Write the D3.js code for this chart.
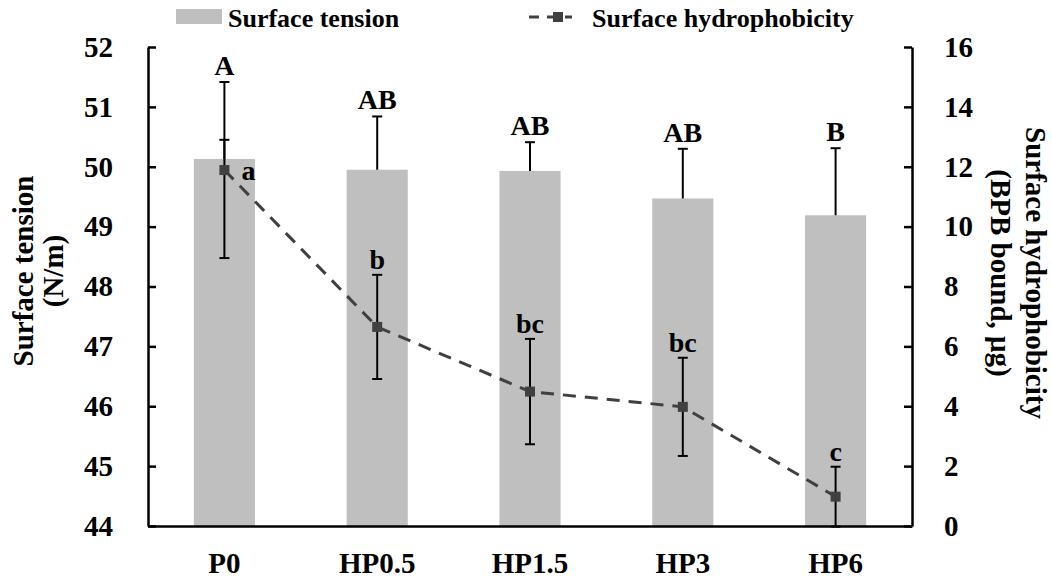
<!DOCTYPE html>
<html>
<head>
<meta charset="utf-8">
<script src="https://cdn.jsdelivr.net/npm/d3@7"></script>
<style>
  body { margin: 0; background: #fff; }
  svg text { font-family: "Liberation Serif", "Times New Roman", serif; font-weight: bold; fill: #000; }
</style>
</head>
<body>
<script>
// values
const categories = ["P0", "HP0.5", "HP1.5", "HP3", "HP6"];
const tension = [50.13, 49.95, 49.93, 49.47, 49.19];
const tensionErr = [0.32, 0.89, 0.48, 0.83, 1.12];
const tensionLetters = ["A", "AB", "AB", "AB", "B"];
const hydro = [11.89, 6.65, 4.49, 3.98, 0.98];
const hydroErr = [2.94, 1.74, 1.76, 1.64, 1.0];
const hydroLetters = ["a", "b", "bc", "bc", "c"];
const leftTicks = [44, 45, 46, 47, 48, 49, 50, 51, 52];
const rightTicks = [0, 2, 4, 6, 8, 10, 12, 14, 16];

const width = 1052, height = 578;
const plotLeft = 148, plotRight = 912, plotTop = 47, plotBottom = 526;

let svg = d3.select("body").append("svg")
    .attr("width", width)
    .attr("height", height);

let x = d3.scaleBand()
    .domain(categories)
    .range([plotLeft, plotRight])
    .paddingInner(0.6)
    .paddingOuter(0.3);

let yL = d3.scaleLinear().domain([44, 52]).range([plotBottom, plotTop]);
let yR = d3.scaleLinear().domain([0, 16]).range([plotBottom, plotTop]);

let rows = categories.map((c, i) => ({
    cat: c,
    t: tension[i], te: tensionErr[i], tl: tensionLetters[i],
    h: hydro[i], he: hydroErr[i], hl: hydroLetters[i]
}));

// bars
svg.selectAll(".bar")
    .data(rows)
    .join("rect")
    .attr("class", "bar")
    .attr("x", d => x(d.cat))
    .attr("width", x.bandwidth())
    .attr("y", d => yL(d.t))
    .attr("height", d => yL(44) - yL(d.t))
    .attr("fill", "#bfbfbf");

let cx = d => x(d.cat) + x.bandwidth() / 2;

// surface tension error bars (plus only)
let te = svg.append("g").attr("stroke", "#000").attr("stroke-width", 2);
te.selectAll("line.v").data(rows).join("line").attr("class", "v")
    .attr("x1", cx).attr("x2", cx)
    .attr("y1", d => yL(d.t)).attr("y2", d => yL(d.t + d.te));
te.selectAll("line.c").data(rows).join("line").attr("class", "c")
    .attr("x1", d => cx(d) - 5).attr("x2", d => cx(d) + 5)
    .attr("y1", d => yL(d.t + d.te)).attr("y2", d => yL(d.t + d.te));

// hydrophobicity line
svg.append("path")
    .datum(rows)
    .attr("fill", "none")
    .attr("stroke", "#404040")
    .attr("stroke-width", 3)
    .attr("stroke-dasharray", "13,9")
    .attr("d", d3.line().x(cx).y(d => yR(d.h)));

// hydrophobicity error bars
let he = svg.append("g").attr("stroke", "#000").attr("stroke-width", 2);
he.selectAll("line.v").data(rows).join("line").attr("class", "v")
    .attr("x1", cx).attr("x2", cx)
    .attr("y1", d => yR(d.h - d.he)).attr("y2", d => yR(d.h + d.he));
he.selectAll("line.c").data(rows.flatMap(d => [[d, d.h - d.he], [d, d.h + d.he]])).join("line").attr("class", "c")
    .attr("x1", d => cx(d[0]) - 5).attr("x2", d => cx(d[0]) + 5)
    .attr("y1", d => yR(d[1])).attr("y2", d => yR(d[1]));

// markers
svg.selectAll(".mark")
    .data(rows)
    .join("rect")
    .attr("class", "mark")
    .attr("x", d => cx(d) - 5)
    .attr("y", d => yR(d.h) - 5)
    .attr("width", 10)
    .attr("height", 10)
    .attr("fill", "#404040");

// letters
svg.selectAll(".tl")
    .data(rows)
    .join("text")
    .attr("class", "tl")
    .attr("x", cx)
    .attr("y", d => Math.min(yL(d.t + d.te), yR(d.h + d.he)) - 7)
    .attr("text-anchor", "middle")
    .attr("font-size", 28)
    .text(d => d.tl);

svg.selectAll(".hl")
    .data(rows)
    .join("text")
    .attr("class", "hl")
    .attr("x", (d, i) => i === 0 ? cx(d) + 17 : cx(d))
    .attr("y", (d, i) => i === 0 ? yR(d.h) + 10 : yR(d.h + d.he) - 6)
    .attr("text-anchor", (d, i) => i === 0 ? "start" : "middle")
    .attr("font-size", 28)
    .text(d => d.hl);

// axes
let axL = svg.append("g")
    .attr("transform", "translate(" + plotLeft + ",0)")
    .call(d3.axisLeft(yL).tickValues(leftTicks).tickFormat(d3.format("d"))
        .tickSizeInner(-8).tickSizeOuter(0).tickPadding(35));

let axR = svg.append("g")
    .attr("transform", "translate(" + plotRight + ",0)")
    .call(d3.axisRight(yR).tickValues(rightTicks).tickFormat(d3.format("d"))
        .tickSizeInner(-8).tickSizeOuter(0).tickPadding(32));

let axB = svg.append("g")
    .attr("transform", "translate(0," + plotBottom + ")")
    .call(d3.axisBottom(x).tickSize(0).tickPadding(26));

[axL, axR, axB].forEach(a => {
    a.selectAll("path, line").attr("stroke", "#000").attr("stroke-width", 2.5);
    a.selectAll("text").attr("font-size", 29).attr("font-family", null).attr("fill", "#000");
});
axB.selectAll("text").attr("dy", "0.71em");

// axis titles
svg.append("text")
    .attr("transform", "translate(33,271) rotate(-90)")
    .attr("text-anchor", "middle")
    .attr("font-size", 29)
    .text("Surface tension");
svg.append("text")
    .attr("transform", "translate(63,271) rotate(-90)")
    .attr("text-anchor", "middle")
    .attr("font-size", 29)
    .text("(N/m)");
svg.append("text")
    .attr("transform", "translate(1026,273) rotate(90)")
    .attr("text-anchor", "middle")
    .attr("font-size", 29)
    .text("Surface hydrophobicity");
svg.append("text")
    .attr("transform", "translate(991,273) rotate(90)")
    .attr("text-anchor", "middle")
    .attr("font-size", 29)
    .text("(BPB bound, μg)");

// legend
let lg = svg.append("g");
lg.append("rect").attr("x", 176).attr("y", 9).attr("width", 46).attr("height", 15).attr("fill", "#bfbfbf");
lg.append("text").attr("x", 228).attr("y", 27).attr("font-size", 26).text("Surface tension");
lg.append("line").attr("x1", 529).attr("x2", 572).attr("y1", 17).attr("y2", 17)
    .attr("stroke", "#404040").attr("stroke-width", 3).attr("stroke-dasharray", "10,8");
lg.append("rect").attr("x", 553).attr("y", 12).attr("width", 10).attr("height", 10).attr("fill", "#404040");
lg.append("text").attr("x", 592).attr("y", 27).attr("font-size", 26).text("Surface hydrophobicity");
</script>
</body>
</html>
